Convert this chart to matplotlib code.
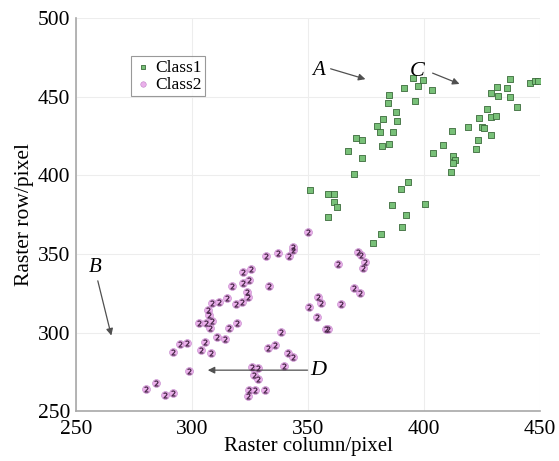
import matplotlib.pyplot as plt

plt.rcParams['font.family'] = ['Liberation Serif', 'DejaVu Serif']

# Class1 points (column, row)
c1_x = [395.3, 399.6, 391.4, 397.4, 403.4, 384.9, 384.5, 396.1, 387.9, 382.3,
        388.4, 379.7, 381.0, 386.6, 370.7, 373.3, 381.9, 384.9, 367.2, 373.3,
        369.8, 350.9, 358.6, 361.2, 361.2, 362.5, 358.6, 393.1, 390.1, 386.2,
        400.4, 392.2, 390.5, 381.5, 378.0,
        437.1, 445.7, 447.8, 449.1, 431.5, 435.8, 428.9, 431.9, 437.1, 440.1,
        427.2, 423.7, 428.9, 431.0, 419.0, 425.0, 425.9, 412.1, 428.9, 423.3,
        422.4, 408.2, 403.9, 412.5, 413.4, 412.5, 411.6]
c1_y = [461.8, 460.6, 455.5, 456.7, 454.2, 451.0, 445.9, 447.2, 440.2, 435.8,
        434.5, 431.3, 427.5, 427.5, 423.7, 422.4, 418.6, 419.8, 415.4, 410.9,
        400.8, 390.6, 388.0, 388.0, 383.0, 379.8, 373.4, 395.7, 391.2, 381.0,
        381.7, 374.7, 367.0, 362.6, 356.9,
        461.2, 458.7, 459.9, 459.9, 456.1, 455.5, 452.3, 450.4, 449.7, 443.4,
        442.1, 436.4, 437.0, 437.7, 430.7, 430.7, 430.0, 428.1, 425.6, 422.4,
        416.7, 419.2, 414.1, 412.2, 409.7, 407.8, 402.0]

# Class2 points (column, row)
c2_x = [280.2, 284.5, 288.4, 291.8, 298.7, 291.8, 294.8, 297.8, 303.9, 308.2,
        305.6, 310.8, 314.2, 303.0, 306.0, 308.6, 307.8, 315.9, 319.4, 306.9,
        307.3, 308.6, 311.6, 315.1, 319.0, 321.6, 317.2, 322.0, 324.6, 323.7,
        324.1, 322.0, 325.4, 333.2, 331.9, 337.1, 341.8, 343.5, 343.5, 350.0,
        338.4, 332.8, 335.8, 341.4, 343.5, 339.7, 325.9, 328.4, 326.7, 328.4,
        324.6, 327.2, 324.1, 331.5, 362.9, 371.6, 372.8, 374.6, 373.7, 369.8,
        372.4, 354.3, 355.6, 350.4, 364.2, 353.9, 357.8, 358.6]
c2_y = [264.0, 267.8, 260.2, 261.5, 275.4, 287.5, 292.6, 293.3, 288.8, 286.9,
        293.9, 297.1, 295.8, 306.0, 306.0, 307.3, 302.8, 302.8, 306.0, 314.3,
        311.1, 318.7, 319.3, 321.9, 318.1, 319.3, 329.5, 331.4, 333.3, 325.7,
        322.5, 338.4, 340.3, 329.5, 348.6, 350.5, 348.6, 352.4, 354.3, 363.9,
        300.3, 290.1, 292.0, 286.9, 284.4, 278.6, 278.0, 277.4, 272.9, 270.4,
        263.4, 263.4, 259.5, 263.4, 343.5, 351.1, 349.2, 344.8, 341.0, 328.2,
        325.1, 322.5, 318.7, 316.2, 318.1, 309.8, 302.2, 302.2]

fig = plt.figure(figsize=(5.59, 4.61), dpi=100)
ax = fig.add_axes([0.136, 0.108, 0.830, 0.853])

ax.scatter(c1_x, c1_y, marker='s', s=20, color='#78c078', edgecolors='#3a6a3a',
           linewidths=0.6, zorder=3, label='Class1')
ax.scatter(c2_x, c2_y, marker='o', s=32, color='#eab0ea', edgecolors='#c080c8',
           linewidths=0.4, zorder=3, label='Class2')
ax.scatter(c2_x, c2_y, marker='$2$', s=16, color='#402040', linewidths=0.3, zorder=4)

ax.set_xlim(250, 450)
ax.set_ylim(250, 500)
ax.set_xticks([250, 300, 350, 400, 450])
ax.set_yticks([250, 300, 350, 400, 450, 500])
ax.grid(True, color='#ededed', linewidth=0.8)
ax.set_axisbelow(True)
for s in ['top', 'right']:
    ax.spines[s].set_visible(False)
for s in ['left', 'bottom']:
    ax.spines[s].set_color('#a8a8a8')
    ax.spines[s].set_linewidth(1.2)
ax.tick_params(length=0, labelsize=15.5)
ax.tick_params(axis='x', pad=6)
ax.tick_params(axis='y', pad=4)
ax.set_xlabel('Raster column/pixel', fontsize=15, labelpad=-1)
ax.set_ylabel('Raster row/pixel', fontsize=15.5, labelpad=3)

leg = ax.legend(loc='upper left', bbox_to_anchor=(0.1, 0.925), fontsize=12.5,
                frameon=True, fancybox=False, handletextpad=0.2,
                borderpad=0.2, labelspacing=0.05, handlelength=1.0, markerscale=0.7)
leg.get_frame().set_edgecolor('#808080')
leg.get_frame().set_linewidth(0.8)

arrow = dict(arrowstyle='-|>', color='#505050', lw=0.9, mutation_scale=10)
ax.annotate('', xy=(375.9, 460.6), xytext=(358.6, 468.2), arrowprops=arrow)
ax.text(354.5, 466.5, 'A', fontsize=15, style='italic', ha='center', va='center')
ax.annotate('', xy=(416.4, 457.4), xytext=(402.6, 465.6), arrowprops=arrow)
ax.text(397.0, 466.0, 'C', fontsize=16, style='italic', ha='center', va='center')
ax.annotate('', xy=(265.5, 296.4), xytext=(259.1, 334.6), arrowprops=arrow)
ax.text(258.2, 341.5, 'B', fontsize=15, style='italic', ha='center', va='center')
ax.annotate('', xy=(305.6, 276.1), xytext=(351.0, 276.1), arrowprops=arrow)
ax.text(354.5, 276.1, 'D', fontsize=16, style='italic', ha='center', va='center')

fig.savefig('out.png', dpi=100)
